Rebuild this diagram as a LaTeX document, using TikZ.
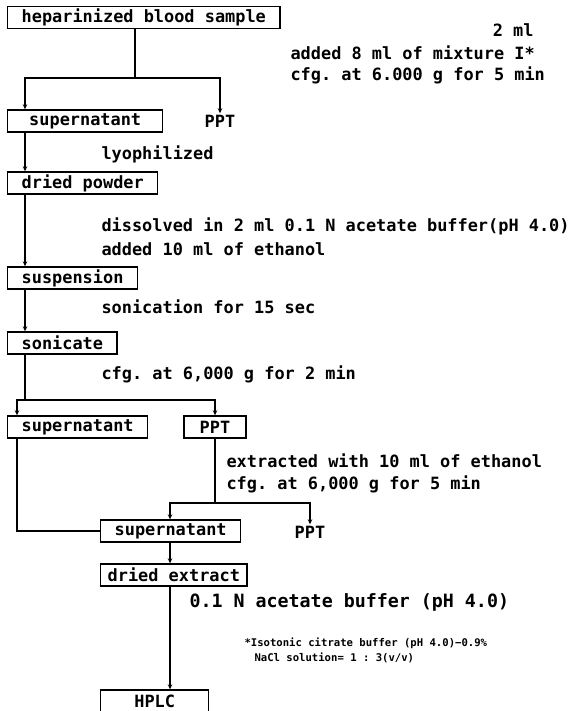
\documentclass[tikz,border=0pt]{standalone}
\usepackage{fontspec}
\setmonofont{DejaVu Sans Mono}
\usepackage{tikz}
\usetikzlibrary{arrows.meta}
\newcommand{\drawflow}{\draw[-{Stealth[length=5pt,width=4.5pt]}]}

\begin{document}
\begin{tikzpicture}[x=1pt, y=-1pt, line width=1.1pt,
    every node/.style={font=\ttfamily\bfseries\fontsize{16.9}{19}\selectfont},
    sample/.style={draw, line width=1.4pt, anchor=west, inner xsep=14pt, inner ysep=0pt, minimum height=22pt},
    note/.style={anchor=west, inner sep=1pt},
    foot/.style={anchor=west, inner sep=1pt, font=\ttfamily\bfseries\fontsize{10.6}{12}\selectfont}]
    % Frame
    \useasboundingbox (0,0) rectangle (570,711);
    \clip (0,0) rectangle (570,711);

    % Draw samples
    \node[sample] (blood) at (7,17.5) {heparinized blood sample};
    \node[sample, minimum width=155pt] (sup1) at (7,121) {supernatant};
    \node[sample] (powder) at (7,183) {dried powder};
    \node[sample] (susp) at (7,278) {suspension};
    \node[sample] (sonic) at (7,343) {sonicate};
    \node[sample] (sup2) at (7,427) {supernatant};
    \node[sample, anchor=center, minimum width=62pt] (ppt2) at (215,427) {PPT};
    \node[sample] (sup3) at (100,531) {supernatant};
    \node[sample, inner xsep=7pt] (extract) at (100,575) {dried extract};
    \node[sample, minimum width=108pt] (hplc) at (100,701) {HPLC};

    % Precipitates
    \node[inner sep=1pt] (ppt1) at (220,121) {PPT};
    \node[inner sep=1pt] (ppt3) at (310,532) {PPT};

    % Draw conditions
    \node[note, anchor=east] (vol) at (535,30) {2 ml};
    \node[note] (mix) at (289,53) {added 8 ml of mixture I*};
    \node[note] (cfga) at (289,75) {cfg. at 6.000 g for 5 min};
    \node[note] (lyo) at (100,154) {lyophilized};
    \node[note] (diss) at (100,226) {dissolved in 2 ml 0.1 N acetate buffer(pH 4.0)};
    \node[note] (etoha) at (100,249) {added 10 ml of ethanol};
    \node[note] (soni) at (100,307) {sonication for 15 sec};
    \node[note] (cfgb) at (100,374) {cfg. at 6,000 g for 2 min};
    \node[note] (etohb) at (225,461) {extracted with 10 ml of ethanol};
    \node[note] (cfgc) at (225,484) {cfg. at 6,000 g for 5 min};
    \node[note, font=\ttfamily\bfseries\fontsize{18.3}{21}\selectfont] (buf) at (188,602) {0.1 N acetate buffer (pH 4.0)};
    \node[foot] (fna) at (243,643) {*Isotonic citrate buffer (pH 4.0)−0.9\%};
    \node[foot] (fnb) at (253,658) {NaCl solution= 1 : 3(v/v)};

    % Lanes
    \coordinate (spine) at (25,0);
    \coordinate (lane) at (17,0);
    \coordinate (core) at (170,0);

    % First split
    \coordinate (k1) at (135,78);
    \draw (blood.south -| k1) -- (k1);
    \drawflow (k1) -| (sup1.north -| spine);
    \drawflow (k1) -| (ppt1.north);

    % Main line
    \drawflow (sup1.south -| spine) -- (powder.north -| spine);
    \drawflow (powder.south -| spine) -- (susp.north -| spine);
    \drawflow (susp.south -| spine) -- (sonic.north -| spine);

    % Second split
    \coordinate (k2) at (25,400);
    \draw (sonic.south -| k2) -- (k2);
    \drawflow (k2) -| (sup2.north -| lane);
    \drawflow (k2) -| (ppt2.north);

    % Third split
    \coordinate (k3) at (215,503);
    \draw (ppt2.south) -- (k3);
    \drawflow (k3) -| (sup3.north -| core);
    \drawflow (k3) -| (ppt3.north);

    % Join and finish
    \draw (sup2.south -| lane) |- (sup3.west);
    \drawflow (sup3.south -| core) -- (extract.north -| core);
    \drawflow (extract.south -| core) -- (hplc.north -| core);
\end{tikzpicture}
\end{document}
